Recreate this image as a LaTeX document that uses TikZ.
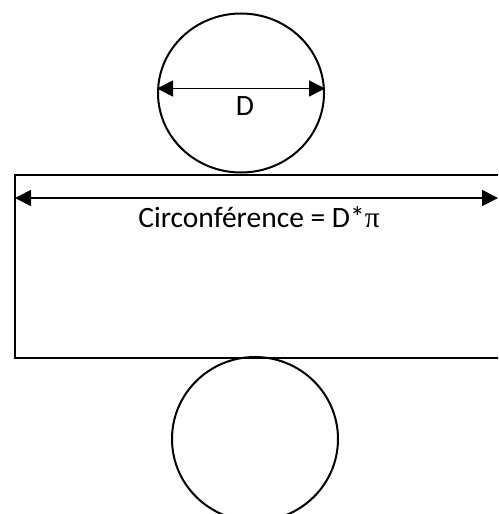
\documentclass[tikz,border=0pt]{standalone}
\usepackage{fontspec}
\setmainfont{Carlito}
\newfontfamily\pifont{Liberation Serif}
\usetikzlibrary{shapes.geometric,arrows.meta,calc}
\begin{document}
\begin{tikzpicture}[x=1pt,y=-1pt,
  shapeline/.style={draw=black,line width=2pt},
  dimarrow/.style={line width=1.7pt,{Triangle[length=16pt,width=16pt]}-{Triangle[length=16pt,width=16pt]}},
  lbl/.style={font=\fontsize{29.5}{34}\selectfont,inner sep=0pt}]
\clip (0,0) rectangle (498,514);
\fill[white] (0,0) rectangle (498,514);
\node[shapeline,ellipse,minimum width=166pt,minimum height=159pt,inner sep=0pt] (top) at (241,93) {};
\node[shapeline,rectangle,minimum width=490pt,minimum height=183pt,inner sep=0pt,anchor=north west] (rect) at (14,174) {};
\node[shapeline,ellipse,minimum width=166pt,minimum height=164pt,inner sep=0pt] (bot) at (255,439) {};
\coordinate (dl) at ($(top.west)+(0,-4.5)$);
\coordinate (dr) at ($(top.east)+(0,-4.5)$);
\draw[dimarrow] (dl) -- (dr);
\node[lbl] (dlabel) at (245,106) {D};
\coordinate (cl) at (15,198);
\coordinate (cr) at (498,198);
\draw[dimarrow] (cl) -- (cr);
\node[lbl] (clabel) at (259,217) {Circonférence = D*{\pifont π}};
\end{tikzpicture}
\end{document}
